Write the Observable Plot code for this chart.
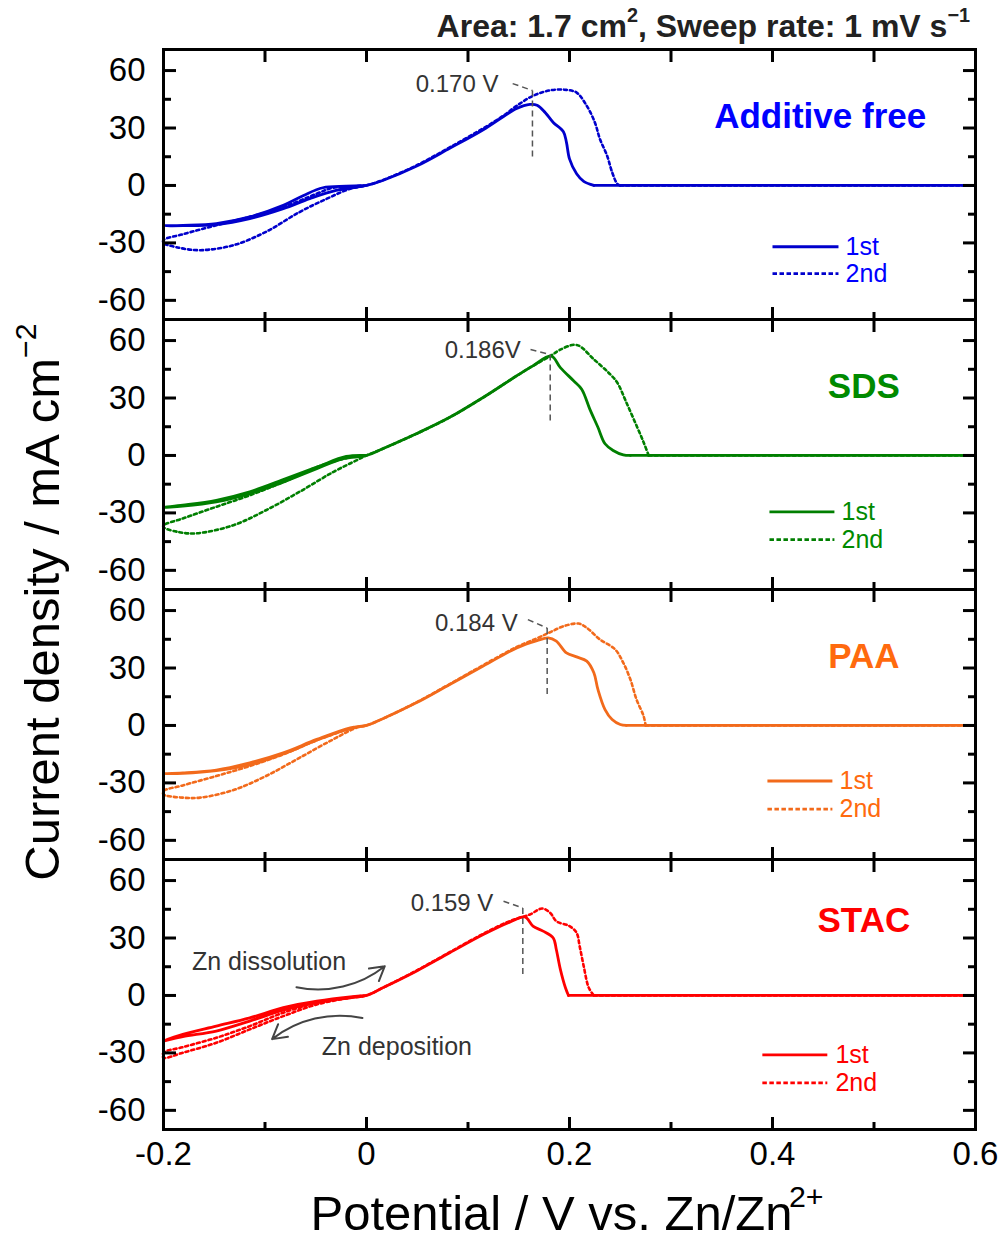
<!DOCTYPE html>
<html><head><meta charset="utf-8">
<script src="https://cdn.jsdelivr.net/npm/d3@7"></script>
<script src="https://cdn.jsdelivr.net/npm/@observablehq/plot@0.6"></script>
<style>
body{margin:0;background:#fff;font-family:"Liberation Sans",Arial,sans-serif;}
#wrap{position:relative;width:1007px;height:1238px;overflow:hidden;background:#fff}
#wrap svg{position:absolute;left:0;top:0}
.ov{position:absolute;white-space:nowrap;color:#000;line-height:1}
#title{right:37px;top:10px;font-weight:bold;font-size:32px;color:#222}
#ylab{left:42px;top:602px;font-size:49px;transform:translate(-50%,-50%) rotate(-90deg)}
#xlab{left:567px;top:1213px;font-size:49px;transform:translate(-50%,-50%);padding:0 6px}
sup{font-size:0.62em;vertical-align:0;position:relative;top:-0.75em}
</style></head><body><div id="wrap"></div>
<script>
// ---------- data ----------
const panels = ["Additive free", "SDS", "PAA", "STAC"];
const cycleNames = ["1st", "2nd"];
const majorX = [-0.2, 0, 0.2, 0.4, 0.6];
const minorX = [-0.1, 0.1, 0.3, 0.5];
const majorY = [-60, -30, 0, 30, 60];
const minorY = [-45, -15, 15, 45];

// [potential V, current density mA cm-2]
const additiveFree1st = [[0,0],[-0.02,-0.4],[-0.043,-1.2],[-0.062,-5.2],[-0.082,-10.4],[-0.115,-16.4],[-0.148,-19.9],[-0.181,-20.8],[-0.2,-21],
 [-0.181,-21],[-0.148,-20.4],[-0.115,-17.3],[-0.082,-12.1],[-0.056,-6.9],[-0.03,-2.6],[0,0],
 [0.016,2.6],[0.049,10],[0.082,19.4],[0.115,29.1],[0.135,36],[0.148,40.2],[0.161,42.3],[0.168,41.9],[0.176,38.1],[0.184,32.9],[0.194,28],[0.197,22.5],[0.2,13.9],[0.207,6.1],[0.214,2.1],[0.224,0],[0.6,0]];
const additiveFree2nd = [[0,0],[-0.016,-0.6],[-0.033,-1.2],[-0.049,-4.3],[-0.082,-11.3],[-0.115,-16.4],[-0.148,-20.8],[-0.181,-25.5],[-0.2,-28.5],
 [-0.2,-30],[-0.185,-32.5],[-0.164,-33.8],[-0.131,-31.2],[-0.099,-24.2],[-0.066,-13.9],[-0.039,-6.9],[-0.016,-1.7],[0,0],
 [0.016,2.8],[0.049,10.4],[0.082,19.9],[0.115,29.8],[0.135,36.5],[0.148,41.6],[0.164,46.8],[0.181,49.7],[0.197,49.9],[0.207,48.5],[0.217,41.6],[0.225,32.9],[0.23,24.2],[0.237,15.6],[0.242,6.9],[0.247,0.9],[0.25,0],[0.6,0]];
const sds1st = [[0,0],[-0.02,-0.5],[-0.049,-6.1],[-0.082,-12.6],[-0.115,-19],[-0.148,-23.4],[-0.181,-26],[-0.2,-27.2],
 [-0.181,-26.5],[-0.148,-24.2],[-0.115,-19.9],[-0.082,-13.9],[-0.049,-6.9],[-0.023,-1.7],[0,0],
 [0.016,3.5],[0.049,11.3],[0.082,19.9],[0.115,30.3],[0.148,41.6],[0.164,46.8],[0.182,51.9],[0.191,45.9],[0.204,39],[0.212,34.6],[0.22,24.2],[0.228,14.7],[0.235,6.1],[0.243,2.6],[0.253,0.3],[0.26,0],[0.6,0]];
const sds2nd = [[0,0],[-0.016,-0.9],[-0.049,-6.1],[-0.082,-13.9],[-0.115,-20.8],[-0.148,-26.8],[-0.181,-32.9],[-0.2,-36.5],
 [-0.2,-37.5],[-0.185,-40],[-0.168,-40.7],[-0.131,-36.4],[-0.099,-28.6],[-0.066,-19],[-0.033,-8.7],[-0.01,-2.6],[0,0],
 [0.016,3.5],[0.049,11.3],[0.082,19.9],[0.115,30.3],[0.148,41.6],[0.164,46.8],[0.182,52.2],[0.19,55],[0.207,57.7],[0.224,50.2],[0.24,42.4],[0.247,38.1],[0.256,27.7],[0.266,15.6],[0.273,6.9],[0.278,0],[0.6,0]];
const paa1st = [[0,0],[-0.016,-1.5],[-0.049,-7.7],[-0.082,-14.9],[-0.115,-20.5],[-0.148,-23.6],[-0.181,-25],[-0.2,-25.2],
 [-0.181,-24.8],[-0.148,-23.3],[-0.115,-19.5],[-0.082,-14.3],[-0.049,-7.3],[-0.016,-1.2],[0,0],
 [0.016,3.5],[0.049,11.8],[0.082,21.4],[0.115,31],[0.148,40.5],[0.168,44.3],[0.179,45.7],[0.187,44],[0.197,37.9],[0.207,35.8],[0.217,33.6],[0.224,27.5],[0.228,18.8],[0.235,8.3],[0.242,3.1],[0.25,0.5],[0.256,0],[0.6,0]];
const paa2nd = [[0,0],[-0.016,-1.7],[-0.049,-7.7],[-0.082,-15.1],[-0.115,-21.2],[-0.148,-26.4],[-0.181,-31.3],[-0.2,-34.3],
 [-0.2,-36],[-0.181,-37.7],[-0.164,-37.7],[-0.131,-33.7],[-0.099,-26.4],[-0.066,-16.9],[-0.033,-7.3],[-0.01,-1.2],[0,0],
 [0.016,3.5],[0.049,12],[0.082,21.6],[0.115,31.5],[0.148,41],[0.168,45.5],[0.181,48.7],[0.194,51.8],[0.209,53.2],[0.217,51],[0.23,44.9],[0.245,39.7],[0.253,32.7],[0.26,24],[0.266,13.6],[0.273,4.9],[0.275,0],[0.6,0]];
const stac1st = [[0,0],[-0.016,-0.7],[-0.049,-3],[-0.082,-6.4],[-0.115,-11.7],[-0.148,-16],[-0.181,-20.3],[-0.2,-23.8],
 [-0.181,-21.5],[-0.148,-18.6],[-0.115,-13.4],[-0.082,-7.7],[-0.049,-3.8],[-0.016,-1.2],[0,0],
 [0.016,4],[0.049,12.7],[0.082,22.3],[0.115,31.8],[0.141,38.3],[0.156,41],[0.164,36.2],[0.174,33.6],[0.184,30],[0.187,24],[0.191,13.6],[0.196,4],[0.199,0],[0.6,0]];
const stac2nd = [[0,0],[-0.016,-1],[-0.049,-3.8],[-0.082,-9],[-0.115,-16],[-0.148,-22.1],[-0.181,-27],[-0.2,-29.9],
 [-0.2,-32.5],[-0.181,-29.9],[-0.148,-24.7],[-0.115,-17.7],[-0.082,-10.8],[-0.049,-4.7],[-0.016,-1.2],[0,0],
 [0.016,4],[0.049,12.9],[0.082,22.6],[0.115,32.2],[0.141,38.8],[0.161,42.3],[0.173,45.4],[0.181,43.1],[0.187,38.8],[0.2,36.2],[0.207,32.7],[0.21,25.7],[0.214,15.3],[0.219,4],[0.224,0],[0.6,0]];

// annotation texts
const peakLabels = ["0.170 V", "0.186V", "0.184 V", "0.159 V"];
const arrowLabels = ["Zn dissolution", "Zn deposition"];

// ---------- colours ----------
const lineColors = {"Additive free":"#0000cc", "SDS":"#007f00", "PAA":"#f26a1b", "STAC":"#ff0000"};
const labelColors = {"Additive free":"#0000ff", "SDS":"#008a00", "PAA":"#ff6a0e", "STAC":"#ff0000"};

// ---------- tables ----------
const series = [
  ["Additive free","1st",additiveFree1st],["Additive free","2nd",additiveFree2nd],
  ["SDS","1st",sds1st],["SDS","2nd",sds2nd],
  ["PAA","1st",paa1st],["PAA","2nd",paa2nd],
  ["STAC","1st",stac1st],["STAC","2nd",stac2nd]];
// smooth part (everything up to where the current returns to zero) and the flat zero tail
const rows = series.flatMap(([panel, cycle, pts]) => pts.slice(0, -1).map(([V, I]) => ({panel, cycle, V, I})));
const tailRows = series.flatMap(([panel, cycle, pts]) => pts.slice(-2).map(([V, I]) => ({panel, cycle, V, I})));

// annotation placement (data coordinates)
const peakLabelX = [0.130, 0.152, 0.149, 0.125];
const peakLabelY = [52.7, 54.7, 53.4, 47.9];
const leaderX1 = [0.144, 0.1616, 0.159, 0.135];
const leaderY1 = [53.2, 55.3, 55.3, 49.2];
const leaderX2 = [0.1635, 0.181, 0.178, 0.154];
const leaderY2 = [49.6, 52.7, 50.9, 45.7];
const leaderYBottom = [13.2, 16.5, 15.3, 10];
const annos = panels.map((panel, i) => ({panel, label: peakLabels[i], tx: peakLabelX[i], ty: peakLabelY[i],
  x1: leaderX1[i], y1: leaderY1[i], x2: leaderX2[i], y2: leaderY2[i], yb: leaderYBottom[i]}));

const legendX1 = [0.400, 0.397, 0.395, 0.390];
const legendX2 = [0.465, 0.461, 0.459, 0.454];
const legendTextX = [0.472, 0.468, 0.466, 0.462];
const legendY1st = [-32, -29.5, -29, -31];
const legendY2nd = [-46, -44, -43.7, -45.7];
const legendRows = panels.flatMap((panel, i) => cycleNames.map((cycle, j) => ({panel, cycle,
  x1: legendX1[i], x2: legendX2[i], tx: legendTextX[i], y: j === 0 ? legendY1st[i] : legendY2nd[i]})));

const panelLabelX = [0.447, 0.49, 0.49, 0.49];
const panelLabelY = [36, 36, 36, 38.8];
const panelLabelRows = panels.map((panel, i) => ({panel, x: panelLabelX[i], y: panelLabelY[i]}));

const znText = [{panel:"STAC", text: arrowLabels[0], x:-0.172, y:17.4}, {panel:"STAC", text: arrowLabels[1], x:-0.044, y:-27}];
const znArrows = [{panel:"STAC", x1:-0.069, y1:4.3, x2:0.018, y2:15.3}, {panel:"STAC", x1:-0.004, y1:-11.8, x2:-0.093, y2:-22.8}];

const FONT = "Liberation Sans, Arial, sans-serif";
const fmt = d => String(d);
const tickStyle = {strokeWidth: 3, fill: "none", label: null};
const is1 = d => d.cycle === "1st", is2 = d => d.cycle === "2nd";
const dash2 = "3,3";

const chart = Plot.plot({
  width: 1007, height: 1238,
  marginLeft: 163, marginRight: 32, marginTop: 48, marginBottom: 108,
  x: {domain: [-0.2, 0.6]},
  y: {domain: [-70, 71]},
  fy: {domain: panels, padding: 0, axis: null},
  style: {fontFamily: FONT, background: "white", color: "black"},
  marks: [
    // curves: 2nd (dotted) below 1st (solid)
    Plot.line(rows.filter(is2), {x: "V", y: "I", z: "panel", fy: "panel",
      stroke: d => lineColors[d.panel], strokeWidth: 2.6, strokeDasharray: dash2, curve: "catmull-rom"}),
    Plot.line(tailRows.filter(is2), {x: "V", y: "I", z: "panel", fy: "panel",
      stroke: d => lineColors[d.panel], strokeWidth: 2.6, strokeDasharray: dash2}),
    Plot.line(rows.filter(is1), {x: "V", y: "I", z: "panel", fy: "panel",
      stroke: d => lineColors[d.panel], strokeWidth: 2.8, curve: "catmull-rom"}),
    Plot.line(tailRows.filter(is1), {x: "V", y: "I", z: "panel", fy: "panel",
      stroke: d => lineColors[d.panel], strokeWidth: 2.8}),
    // peak annotations
    Plot.link(annos, {x1: "x1", y1: "y1", x2: "x2", y2: "y2", fy: "panel", stroke: "#555", strokeWidth: 1.5, strokeDasharray: "6,4"}),
    Plot.link(annos, {x1: "x2", y1: "y2", x2: "x2", y2: "yb", fy: "panel", stroke: "#555", strokeWidth: 1.5, strokeDasharray: "6,4"}),
    Plot.text(annos, {x: "tx", y: "ty", text: "label", fy: "panel", textAnchor: "end", fontSize: 24, fill: "#333"}),
    // legends
    Plot.link(legendRows.filter(is1), {x1: "x1", x2: "x2", y1: "y", y2: "y", fy: "panel", stroke: d => lineColors[d.panel], strokeWidth: 2.8}),
    Plot.link(legendRows.filter(is2), {x1: "x1", x2: "x2", y1: "y", y2: "y", fy: "panel", stroke: d => lineColors[d.panel], strokeWidth: 2.8, strokeDasharray: "4.5,2.5"}),
    Plot.text(legendRows, {x: "tx", y: "y", text: "cycle", fy: "panel", textAnchor: "start", fontSize: 25, fill: d => labelColors[d.panel]}),
    // panel labels
    Plot.text(panelLabelRows, {x: "x", y: "y", text: "panel", fy: "panel", fontSize: 35, fontWeight: "bold", fill: d => labelColors[d.panel]}),
    // Zn arrows
    Plot.text(znText, {x: "x", y: "y", text: "text", fy: "panel", textAnchor: "start", fontSize: 25, fill: "#333"}),
    Plot.arrow(znArrows, {x1: "x1", y1: "y1", x2: "x2", y2: "y2", fy: "panel", bend: -25, stroke: "#444", strokeWidth: 2, headLength: 12}),
    // frame
    Plot.frame({stroke: "black", strokeWidth: 3}),
    // ticks (inward)
    Plot.axisY(majorY, {anchor: "left", tickSize: -13, ...tickStyle}),
    Plot.axisY(minorY, {anchor: "left", tickSize: -8, ...tickStyle}),
    Plot.axisY(majorY, {anchor: "right", tickSize: -13, ...tickStyle}),
    Plot.axisY(minorY, {anchor: "right", tickSize: -8, ...tickStyle}),
    Plot.axisX(majorX, {anchor: "bottom", tickSize: -12, facetAnchor: null, ...tickStyle}),
    Plot.axisX(minorX, {anchor: "bottom", tickSize: -7, facetAnchor: null, ...tickStyle}),
    Plot.axisX(majorX, {anchor: "top", tickSize: -12, facetAnchor: null, ...tickStyle}),
    Plot.axisX(minorX, {anchor: "top", tickSize: -12, facetAnchor: null, ...tickStyle}),
    // tick labels
    Plot.axisY(majorY, {anchor: "left", tickSize: 0, tickPadding: 18, stroke: "none", fontSize: 33, tickFormat: fmt, label: null}),
    Plot.axisX(majorX, {anchor: "bottom", tickSize: 0, tickPadding: 12, stroke: "none", fontSize: 33, tickFormat: fmt, label: null})
  ]
});

const wrap = document.getElementById("wrap");
wrap.appendChild(chart);
wrap.insertAdjacentHTML("beforeend",
  `<div class="ov" id="title">Area: 1.7 cm<sup>2</sup>, Sweep rate: 1 mV s<sup>−1</sup></div>
   <div class="ov" id="ylab">Current density / mA cm<sup>−2</sup></div>
   <div class="ov" id="xlab">Potential / V vs. Zn/Zn<sup style="margin-left:-0.12em">2+</sup></div>`);
</script>
</body></html>
